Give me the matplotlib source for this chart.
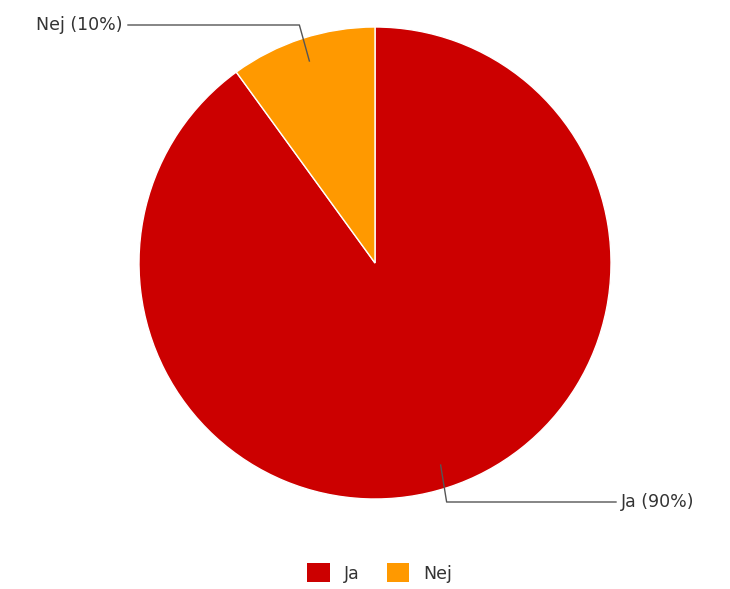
import numpy as np
from matplotlib import pyplot as plt
from matplotlib.patches import Patch

# data
labels = ['Ja', 'Nej']
values = [90, 10]
colors = ['#cc0000', '#ff9900']

W, H = 730, 589
fig = plt.figure(figsize=(W / 100, H / 100), dpi=100)
ax = fig.add_axes([0, 0, 1, 1])

cx, cy, r = 375, 326, 236
wedges, _ = ax.pie(values, colors=colors, startangle=90, counterclock=False,
                   center=(cx, cy), radius=r, frame=True,
                   wedgeprops=dict(edgecolor='white', linewidth=1))
ax.set_xlim(0, W)
ax.set_ylim(0, H)
ax.set_aspect('equal')
ax.axis('off')

# leader lines + labels
line_col = '#555555'
fs = 12.5
for i, w in enumerate(wedges):
    mid = np.deg2rad((w.theta1 + w.theta2) / 2)
    px = cx + 0.9 * r * np.cos(mid)
    py = cy + 0.9 * r * np.sin(mid)
    txt = '%s (%d%%)' % (labels[i], values[i])
    if np.cos(mid) < 0:
        ex, ey = px - 10, cy + r + 2
        tx = 128
        ax.plot([px, ex, tx], [py, ey, ey], color=line_col, lw=1)
        ax.text(tx - 5, ey, txt, ha='right', va='center', fontsize=fs, color='#333333')
    else:
        ex, ey = px + 6, cy - r - 3
        tx = 616
        ax.plot([px, ex, tx], [py, ey, ey], color=line_col, lw=1)
        ax.text(tx + 5, ey, txt, ha='left', va='center', fontsize=fs, color='#333333')

handles = [Patch(facecolor=c, edgecolor='none') for c in colors]
fig.legend(handles, labels, loc='center', bbox_to_anchor=(0.52, 0.027), ncol=2,
           frameon=False, fontsize=fs, handlelength=1.3, handleheight=1.3,
           columnspacing=1.6, handletextpad=0.8, labelcolor='#333333')

fig.savefig('out.png', dpi=100)
